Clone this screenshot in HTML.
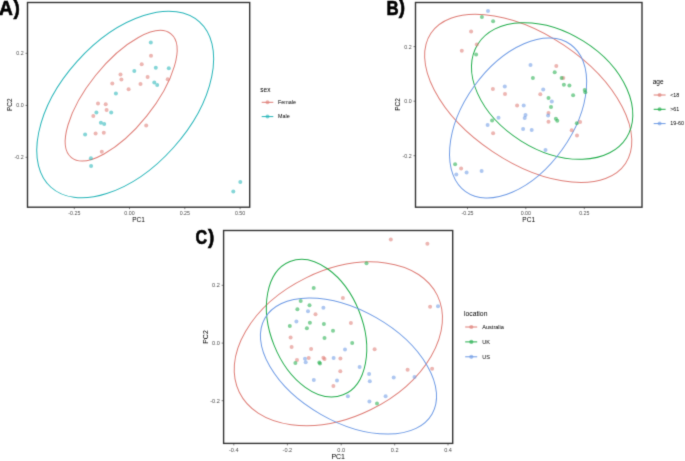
<!DOCTYPE html><html><head><meta charset="utf-8"><style>html,body{margin:0;padding:0;background:#fff;}svg{display:block;}</style></head><body><svg width="685" height="461" viewBox="0 0 685 461" font-family="Liberation Sans, Arial, sans-serif"><rect width="685" height="461" fill="#fff"/><defs><filter id="bl" color-interpolation-filters="sRGB" filterUnits="userSpaceOnUse" x="0" y="0" width="685" height="461"><feConvolveMatrix order="3" kernelMatrix="1 6 1 6 36 6 1 6 1" divisor="64" edgeMode="duplicate"/><feColorMatrix type="saturate" values="0.75"/></filter></defs><g filter="url(#bl)"><rect x="27.5" y="2.5" width="222.2" height="204.7" fill="none" stroke="#333" stroke-width="1.4"/><line x1="74.3" y1="207.2" x2="74.3" y2="209.2" stroke="#333" stroke-width="0.6"/><text x="74.3" y="215.0" font-size="5.3" fill="#4d4d4d" text-anchor="middle">-0.25</text><line x1="129.5" y1="207.2" x2="129.5" y2="209.2" stroke="#333" stroke-width="0.6"/><text x="129.5" y="215.0" font-size="5.3" fill="#4d4d4d" text-anchor="middle">0.00</text><line x1="184.8" y1="207.2" x2="184.8" y2="209.2" stroke="#333" stroke-width="0.6"/><text x="184.8" y="215.0" font-size="5.3" fill="#4d4d4d" text-anchor="middle">0.25</text><line x1="240.1" y1="207.2" x2="240.1" y2="209.2" stroke="#333" stroke-width="0.6"/><text x="240.1" y="215.0" font-size="5.3" fill="#4d4d4d" text-anchor="middle">0.50</text><line x1="25.5" y1="53.3" x2="27.5" y2="53.3" stroke="#333" stroke-width="0.6"/><text x="23.7" y="55.199999999999996" font-size="5.3" fill="#4d4d4d" text-anchor="end">0.2</text><line x1="25.5" y1="105.4" x2="27.5" y2="105.4" stroke="#333" stroke-width="0.6"/><text x="23.7" y="107.30000000000001" font-size="5.3" fill="#4d4d4d" text-anchor="end">0.0</text><line x1="25.5" y1="157.3" x2="27.5" y2="157.3" stroke="#333" stroke-width="0.6"/><text x="23.7" y="159.20000000000002" font-size="5.3" fill="#4d4d4d" text-anchor="end">-0.2</text><ellipse cx="125.21" cy="104.56" rx="111.13" ry="64.64" transform="rotate(-48.08 125.21 104.56)" fill="none" stroke="#00BFC4" stroke-width="1.0"/><ellipse cx="121.17" cy="95.71" rx="79.41" ry="32.66" transform="rotate(-51.21 121.17 95.71)" fill="none" stroke="#F8766D" stroke-width="1.0"/><g fill="#F8766D" fill-opacity="0.57"><circle cx="151.0" cy="55.8" r="2.0"/><circle cx="141.7" cy="64.2" r="2.0"/><circle cx="147.6" cy="77.1" r="2.0"/><circle cx="140.5" cy="84.0" r="2.0"/><circle cx="167.7" cy="79.2" r="2.0"/><circle cx="120.5" cy="74.5" r="2.0"/><circle cx="121.4" cy="79.5" r="2.0"/><circle cx="112.3" cy="83.5" r="2.0"/><circle cx="128.6" cy="89.3" r="2.0"/><circle cx="98.0" cy="103.4" r="2.0"/><circle cx="105.7" cy="104.3" r="2.0"/><circle cx="106.6" cy="110.0" r="2.0"/><circle cx="93.3" cy="116.0" r="2.0"/><circle cx="95.6" cy="133.4" r="2.0"/><circle cx="103.8" cy="132.7" r="2.0"/><circle cx="101.8" cy="151.8" r="2.0"/><circle cx="146.2" cy="125.5" r="2.0"/></g><g fill="#00BFC4" fill-opacity="0.57"><circle cx="150.8" cy="42.6" r="2.0"/><circle cx="134.3" cy="71.1" r="2.0"/><circle cx="155.8" cy="67.8" r="2.0"/><circle cx="168.8" cy="68.2" r="2.0"/><circle cx="154.3" cy="82.6" r="2.0"/><circle cx="157.2" cy="85.0" r="2.0"/><circle cx="115.9" cy="93.6" r="2.0"/><circle cx="96.4" cy="112.6" r="2.0"/><circle cx="111.2" cy="112.6" r="2.0"/><circle cx="100.9" cy="122.7" r="2.0"/><circle cx="104.2" cy="123.9" r="2.0"/><circle cx="85.1" cy="134.4" r="2.0"/><circle cx="90.9" cy="158.2" r="2.0"/><circle cx="91.1" cy="166.1" r="2.0"/><circle cx="240.3" cy="181.9" r="2.0"/><circle cx="233.3" cy="191.4" r="2.0"/></g><text x="138.6" y="221.6" font-size="6.5" fill="#000" text-anchor="middle">PC1</text><text transform="translate(12.1 104.7) rotate(-90)" font-size="6.5" fill="#000" text-anchor="middle">PC2</text><text x="260.3" y="91.6" font-size="6.5" fill="#000">sex</text><line x1="261.7" y1="102.3" x2="273.3" y2="102.3" stroke="#F8766D" stroke-width="1.0"/><circle cx="267.5" cy="102.3" r="2" fill="#F8766D" fill-opacity="0.6"/><text x="278" y="104.0" font-size="5.4" fill="#000">Female</text><line x1="261.7" y1="116.6" x2="273.3" y2="116.6" stroke="#00BFC4" stroke-width="1.0"/><circle cx="267.5" cy="116.6" r="2" fill="#00BFC4" fill-opacity="0.6"/><text x="278" y="118.3" font-size="5.4" fill="#000">Male</text><rect x="415.5" y="2.5" width="226.5" height="204.7" fill="none" stroke="#333" stroke-width="1.4"/><line x1="467.5" y1="207.2" x2="467.5" y2="209.2" stroke="#333" stroke-width="0.6"/><text x="467.5" y="215.0" font-size="5.3" fill="#4d4d4d" text-anchor="middle">-0.25</text><line x1="525.8" y1="207.2" x2="525.8" y2="209.2" stroke="#333" stroke-width="0.6"/><text x="525.8" y="215.0" font-size="5.3" fill="#4d4d4d" text-anchor="middle">0.00</text><line x1="584.3" y1="207.2" x2="584.3" y2="209.2" stroke="#333" stroke-width="0.6"/><text x="584.3" y="215.0" font-size="5.3" fill="#4d4d4d" text-anchor="middle">0.25</text><line x1="413.5" y1="46.6" x2="415.5" y2="46.6" stroke="#333" stroke-width="0.6"/><text x="411.7" y="48.5" font-size="5.3" fill="#4d4d4d" text-anchor="end">0.2</text><line x1="413.5" y1="101.2" x2="415.5" y2="101.2" stroke="#333" stroke-width="0.6"/><text x="411.7" y="103.10000000000001" font-size="5.3" fill="#4d4d4d" text-anchor="end">0.0</text><line x1="413.5" y1="155.7" x2="415.5" y2="155.7" stroke="#333" stroke-width="0.6"/><text x="411.7" y="157.6" font-size="5.3" fill="#4d4d4d" text-anchor="end">-0.2</text><ellipse cx="528.22" cy="98.41" rx="117.05" ry="64.02" transform="rotate(-146.23 528.22 98.41)" fill="none" stroke="#F8766D" stroke-width="1.0"/><ellipse cx="552.14" cy="90.98" rx="87.83" ry="58.86" transform="rotate(-147.85 552.14 90.98)" fill="none" stroke="#00BA38" stroke-width="1.0"/><ellipse cx="518.08" cy="118.04" rx="90.37" ry="54.23" transform="rotate(-54.50 518.08 118.04)" fill="none" stroke="#619CFF" stroke-width="1.0"/><g fill="#F8766D" fill-opacity="0.57"><circle cx="471.1" cy="31.6" r="2.0"/><circle cx="476.8" cy="44.6" r="2.0"/><circle cx="461.8" cy="50.8" r="2.0"/><circle cx="492.9" cy="89.0" r="2.0"/><circle cx="505.0" cy="94.0" r="2.0"/><circle cx="517.1" cy="105.5" r="2.0"/><circle cx="556.3" cy="66.1" r="2.0"/><circle cx="563.3" cy="78.0" r="2.0"/><circle cx="540.3" cy="94.2" r="2.0"/><circle cx="548.5" cy="113.1" r="2.0"/><circle cx="548.5" cy="121.7" r="2.0"/><circle cx="580.1" cy="121.9" r="2.0"/><circle cx="571.7" cy="130.3" r="2.0"/><circle cx="577.0" cy="135.4" r="2.0"/><circle cx="493.1" cy="133.3" r="2.0"/><circle cx="461.1" cy="168.5" r="2.0"/></g><g fill="#00BA38" fill-opacity="0.57"><circle cx="481.9" cy="16.9" r="2.0"/><circle cx="493.1" cy="21.2" r="2.0"/><circle cx="476.1" cy="54.4" r="2.0"/><circle cx="554.7" cy="72.2" r="2.0"/><circle cx="532.9" cy="78.0" r="2.0"/><circle cx="561.6" cy="78.0" r="2.0"/><circle cx="563.9" cy="84.7" r="2.0"/><circle cx="569.4" cy="85.6" r="2.0"/><circle cx="584.7" cy="89.9" r="2.0"/><circle cx="585.3" cy="92.3" r="2.0"/><circle cx="573.1" cy="95.2" r="2.0"/><circle cx="548.5" cy="98.1" r="2.0"/><circle cx="551.0" cy="107.1" r="2.0"/><circle cx="555.9" cy="118.8" r="2.0"/><circle cx="557.3" cy="120.8" r="2.0"/><circle cx="576.8" cy="123.3" r="2.0"/><circle cx="492.1" cy="120.6" r="2.0"/><circle cx="455.1" cy="164.2" r="2.0"/></g><g fill="#619CFF" fill-opacity="0.57"><circle cx="488.0" cy="11.0" r="2.0"/><circle cx="530.5" cy="65.0" r="2.0"/><circle cx="504.8" cy="86.6" r="2.0"/><circle cx="543.2" cy="89.5" r="2.0"/><circle cx="551.8" cy="101.6" r="2.0"/><circle cx="523.7" cy="105.5" r="2.0"/><circle cx="525.5" cy="114.9" r="2.0"/><circle cx="524.7" cy="118.0" r="2.0"/><circle cx="548.1" cy="115.5" r="2.0"/><circle cx="498.5" cy="117.8" r="2.0"/><circle cx="487.6" cy="124.9" r="2.0"/><circle cx="523.1" cy="129.1" r="2.0"/><circle cx="531.7" cy="129.9" r="2.0"/><circle cx="545.5" cy="149.9" r="2.0"/><circle cx="456.3" cy="174.5" r="2.0"/><circle cx="466.6" cy="172.6" r="2.0"/><circle cx="481.6" cy="170.9" r="2.0"/></g><text x="528.7" y="221.8" font-size="6.5" fill="#000" text-anchor="middle">PC1</text><text transform="translate(400.3 104.5) rotate(-90)" font-size="6.5" fill="#000" text-anchor="middle">PC2</text><text x="652.7" y="83.6" font-size="6.5" fill="#000">age</text><line x1="653.7" y1="95.0" x2="665.6" y2="95.0" stroke="#F8766D" stroke-width="1.0"/><circle cx="659.6" cy="95.0" r="2" fill="#F8766D" fill-opacity="0.6"/><text x="670.2" y="96.7" font-size="5.4" fill="#000">&lt;18</text><line x1="653.7" y1="109.3" x2="665.6" y2="109.3" stroke="#00BA38" stroke-width="1.0"/><circle cx="659.6" cy="109.3" r="2" fill="#00BA38" fill-opacity="0.6"/><text x="670.2" y="111.0" font-size="5.4" fill="#000">&gt;61</text><line x1="653.7" y1="123.6" x2="665.6" y2="123.6" stroke="#619CFF" stroke-width="1.0"/><circle cx="659.6" cy="123.6" r="2" fill="#619CFF" fill-opacity="0.6"/><text x="670.2" y="125.3" font-size="5.4" fill="#000">19-60</text><rect x="223.6" y="230.5" width="229.1" height="212.89999999999998" fill="none" stroke="#333" stroke-width="1.4"/><line x1="233.8" y1="443.4" x2="233.8" y2="445.4" stroke="#333" stroke-width="0.6"/><text x="233.8" y="451.59" font-size="5.565" fill="#4d4d4d" text-anchor="middle">-0.4</text><line x1="287.4" y1="443.4" x2="287.4" y2="445.4" stroke="#333" stroke-width="0.6"/><text x="287.4" y="451.59" font-size="5.565" fill="#4d4d4d" text-anchor="middle">-0.2</text><line x1="341.2" y1="443.4" x2="341.2" y2="445.4" stroke="#333" stroke-width="0.6"/><text x="341.2" y="451.59" font-size="5.565" fill="#4d4d4d" text-anchor="middle">0.0</text><line x1="394.7" y1="443.4" x2="394.7" y2="445.4" stroke="#333" stroke-width="0.6"/><text x="394.7" y="451.59" font-size="5.565" fill="#4d4d4d" text-anchor="middle">0.2</text><line x1="448" y1="443.4" x2="448" y2="445.4" stroke="#333" stroke-width="0.6"/><text x="448" y="451.59" font-size="5.565" fill="#4d4d4d" text-anchor="middle">0.4</text><line x1="221.6" y1="285.3" x2="223.6" y2="285.3" stroke="#333" stroke-width="0.6"/><text x="219.79999999999998" y="287.295" font-size="5.565" fill="#4d4d4d" text-anchor="end">0.2</text><line x1="221.6" y1="343.1" x2="223.6" y2="343.1" stroke="#333" stroke-width="0.6"/><text x="219.79999999999998" y="345.095" font-size="5.565" fill="#4d4d4d" text-anchor="end">0.0</text><line x1="221.6" y1="400.7" x2="223.6" y2="400.7" stroke="#333" stroke-width="0.6"/><text x="219.79999999999998" y="402.695" font-size="5.565" fill="#4d4d4d" text-anchor="end">-0.2</text><ellipse cx="338.33" cy="343.79" rx="110.23" ry="73.40" transform="rotate(153.93 338.33 343.79)" fill="none" stroke="#F8766D" stroke-width="1.0"/><ellipse cx="316.56" cy="328.16" rx="71.78" ry="45.78" transform="rotate(-111.74 316.56 328.16)" fill="none" stroke="#00BA38" stroke-width="1.0"/><ellipse cx="348.49" cy="366.03" rx="96.36" ry="55.72" transform="rotate(-150.19 348.49 366.03)" fill="none" stroke="#619CFF" stroke-width="1.0"/><g fill="#F8766D" fill-opacity="0.57"><circle cx="390.8" cy="239.5" r="2.0"/><circle cx="427.4" cy="243.8" r="2.0"/><circle cx="342.9" cy="297.9" r="2.0"/><circle cx="430.1" cy="306.7" r="2.0"/><circle cx="350.9" cy="323.0" r="2.0"/><circle cx="315.5" cy="314.3" r="2.0"/><circle cx="290.6" cy="337.5" r="2.0"/><circle cx="291.6" cy="347.0" r="2.0"/><circle cx="311.1" cy="348.9" r="2.0"/><circle cx="374.6" cy="349.2" r="2.0"/><circle cx="297.0" cy="360.1" r="2.0"/><circle cx="308.7" cy="358.0" r="2.0"/><circle cx="323.4" cy="357.7" r="2.0"/><circle cx="324.5" cy="358.9" r="2.0"/><circle cx="340.4" cy="358.6" r="2.0"/><circle cx="340.3" cy="371.2" r="2.0"/><circle cx="333.4" cy="386.0" r="2.0"/><circle cx="407.6" cy="369.8" r="2.0"/><circle cx="432.1" cy="368.8" r="2.0"/></g><g fill="#00BA38" fill-opacity="0.57"><circle cx="366.5" cy="263.3" r="2.0"/><circle cx="313.7" cy="287.9" r="2.0"/><circle cx="300.7" cy="301.0" r="2.0"/><circle cx="309.5" cy="305.2" r="2.0"/><circle cx="297.4" cy="309.2" r="2.0"/><circle cx="289.8" cy="325.9" r="2.0"/><circle cx="309.9" cy="322.8" r="2.0"/><circle cx="306.9" cy="328.2" r="2.0"/><circle cx="323.9" cy="324.1" r="2.0"/><circle cx="333.0" cy="330.7" r="2.0"/><circle cx="324.5" cy="338.0" r="2.0"/><circle cx="352.2" cy="343.0" r="2.0"/><circle cx="295.4" cy="363.1" r="2.0"/><circle cx="319.3" cy="362.6" r="2.0"/><circle cx="320.0" cy="363.6" r="2.0"/><circle cx="377.0" cy="403.4" r="2.0"/></g><g fill="#619CFF" fill-opacity="0.57"><circle cx="323.4" cy="307.8" r="2.0"/><circle cx="308.0" cy="311.2" r="2.0"/><circle cx="296.4" cy="321.6" r="2.0"/><circle cx="345.0" cy="349.4" r="2.0"/><circle cx="305.0" cy="358.7" r="2.0"/><circle cx="305.7" cy="362.2" r="2.0"/><circle cx="333.6" cy="358.1" r="2.0"/><circle cx="359.6" cy="367.1" r="2.0"/><circle cx="369.1" cy="374.0" r="2.0"/><circle cx="369.8" cy="381.2" r="2.0"/><circle cx="313.8" cy="380.0" r="2.0"/><circle cx="337.0" cy="380.5" r="2.0"/><circle cx="393.7" cy="377.6" r="2.0"/><circle cx="414.5" cy="376.9" r="2.0"/><circle cx="438.0" cy="306.2" r="2.0"/><circle cx="347.9" cy="396.2" r="2.0"/><circle cx="385.6" cy="396.2" r="2.0"/><circle cx="369.4" cy="401.5" r="2.0"/></g><text x="338.2" y="459" font-size="7.0" fill="#000" text-anchor="middle">PC1</text><text transform="translate(207.8 337) rotate(-90)" font-size="7.0" fill="#000" text-anchor="middle">PC2</text><text x="464" y="315.9" font-size="6.8" fill="#000">location</text><line x1="465.2" y1="327.0" x2="477.2" y2="327.0" stroke="#F8766D" stroke-width="1.0"/><circle cx="471.3" cy="327.0" r="2.1" fill="#F8766D" fill-opacity="0.6"/><text x="482.2" y="328.8" font-size="5.6" fill="#000">Australia</text><line x1="465.2" y1="341.9" x2="477.2" y2="341.9" stroke="#00BA38" stroke-width="1.0"/><circle cx="471.3" cy="341.9" r="2.1" fill="#00BA38" fill-opacity="0.6"/><text x="482.2" y="343.7" font-size="5.6" fill="#000">UK</text><line x1="465.2" y1="356.8" x2="477.2" y2="356.8" stroke="#619CFF" stroke-width="1.0"/><circle cx="471.3" cy="356.8" r="2.1" fill="#619CFF" fill-opacity="0.6"/><text x="482.2" y="358.6" font-size="5.6" fill="#000">US</text><g font-family="Liberation Sans, Arial, sans-serif" font-weight="bold" fill="#000" stroke="#000" stroke-width="0.6"><text transform="translate(-0.88 15.20) scale(0.96 1)" font-size="20">A</text><text transform="translate(13.60 14.50) scale(0.95 1)" font-size="19.9">)</text><text transform="translate(386.52 15.10) scale(0.87 1)" font-size="19.4">B</text><text transform="translate(398.80 14.40) scale(0.95 1)" font-size="19.9">)</text><text transform="translate(195.55 244.30) scale(0.81 1)" font-size="20">C</text><text transform="translate(207.90 243.70) scale(0.95 1)" font-size="19.9">)</text></g></g></svg></body></html>
